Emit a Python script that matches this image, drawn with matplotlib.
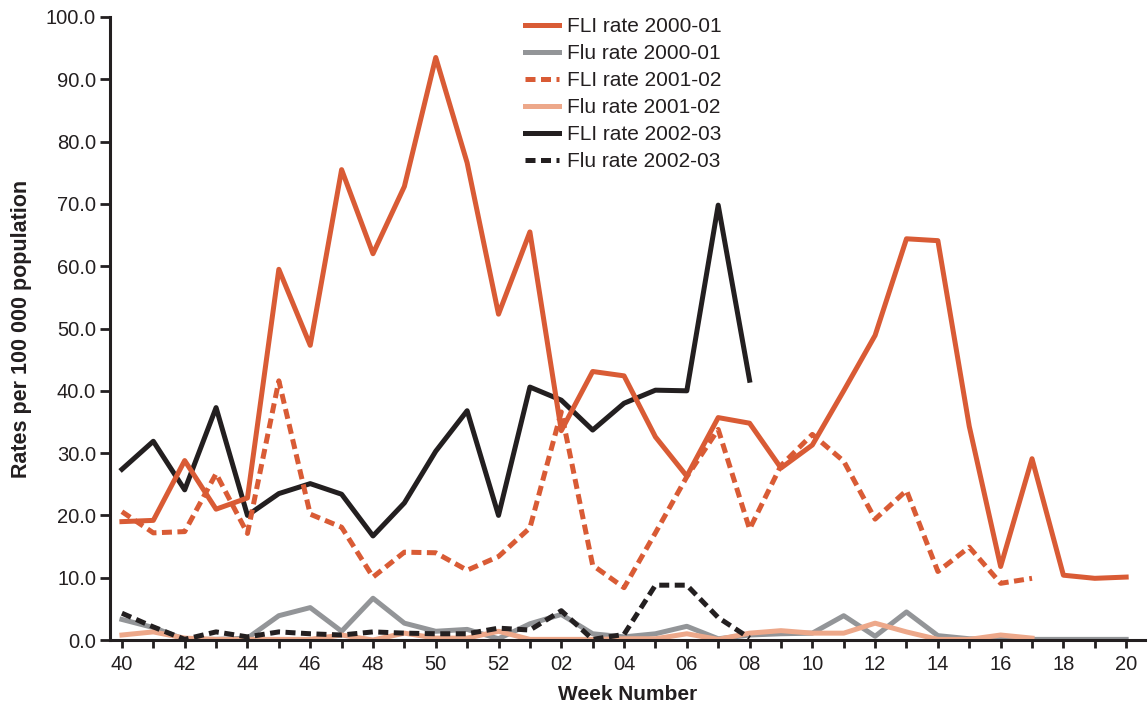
import matplotlib
matplotlib.use("Agg")
import matplotlib.pyplot as plt
from matplotlib.ticker import FixedLocator

weeks = ["40","41","42","43","44","45","46","47","48","49","50","51","52",
         "01","02","03","04","05","06","07","08","09","10","11","12","13",
         "14","15","16","17","18","19","20"]

fli_2000 = [19.0, 19.2, 28.8, 21.0, 22.8, 59.5, 47.3, 75.5, 62.0, 72.8, 93.5, 76.6, 52.3,
            65.5, 33.6, 43.1, 42.4, 32.6, 26.3, 35.7, 34.8, 27.6, 31.3, 40.0, 48.9, 64.4,
            64.1, 34.3, 11.8, 29.1, 10.4, 9.9, 10.1]
flu_2000 = [3.3, 2.0, 0.1, 0.1, 0.3, 3.9, 5.2, 1.4, 6.7, 2.7, 1.4, 1.7, 0.2,
            2.6, 4.1, 1.0, 0.5, 1.0, 2.2, 0.2, 0.8, 1.0, 1.1, 3.9, 0.6, 4.5,
            0.7, 0.2, 0.1, 0.1, 0.1, 0.1, 0.1]
fli_2001 = [20.6, 17.2, 17.4, 26.7, 17.1, 41.6, 20.2, 18.1, 10.1, 14.1, 14.0, 11.2, 13.4,
            18.0, 36.6, 12.0, 8.4, 17.2, 26.2, 33.8, 17.8, 28.0, 33.0, 28.7, 19.4, 24.0,
            11.0, 14.9, 9.1, 9.9]
flu_2001 = [0.8, 1.3, 0.3, 0.1, 0.1, 0.1, 0.1, 0.8, 0.0, 1.1, 0.3, 0.3, 1.4,
            0.1, 0.1, 0.1, 0.2, 0.2, 1.0, 0.1, 1.1, 1.5, 1.1, 1.1, 2.7, 1.3,
            0.1, 0.1, 0.8, 0.3]
fli_2002 = [27.4, 31.9, 24.1, 37.3, 20.0, 23.5, 25.1, 23.4, 16.7, 22.0, 30.3, 36.8, 20.0,
            40.6, 38.5, 33.7, 38.0, 40.1, 40.0, 69.8, 41.7]
flu_2002 = [4.3, 2.1, 0.1, 1.3, 0.5, 1.3, 1.0, 0.8, 1.3, 1.1, 1.0, 1.0, 1.9,
            1.6, 4.7, 0.1, 0.9, 8.8, 8.8, 3.6, 0.3]

orange = "#d95b35"
grey = "#939598"
salmon = "#eda88a"
black = "#231f20"

plt.rcParams['font.family'] = ['Liberation Sans', 'DejaVu Sans']

fig = plt.figure(figsize=(11.48, 7.07), dpi=100)
ax = fig.add_axes([110/1148, 1-640/707, 1035/1148, 623/707])

lw = 3.6
dash = (2.0, 1.1)
x = list(range(len(weeks)))
ax.plot(x[:len(fli_2000)], fli_2000, color=orange, lw=lw, label="FLI rate 2000-01", zorder=3)
ax.plot(x[:len(flu_2000)], flu_2000, color=grey, lw=lw, label="Flu rate 2000-01", zorder=2)
ax.plot(x[:len(fli_2001)], fli_2001, color=orange, lw=lw, dashes=dash, label="FLI rate 2001-02", zorder=3)
ax.plot(x[:len(flu_2001)], flu_2001, color=salmon, lw=lw, label="Flu rate 2001-02", zorder=2)
ax.plot(x[:len(fli_2002)], fli_2002, color=black, lw=lw, label="FLI rate 2002-03", zorder=2)
ax.plot(x[:len(flu_2002)], flu_2002, color=black, lw=lw, dashes=dash, label="Flu rate 2002-03", zorder=2)

ax.set_ylim(0, 100)
ax.set_xlim(-0.38, 32.6)
ax.set_yticks(range(0, 101, 10))
ax.set_yticklabels([f"{v:.1f}" for v in range(0, 101, 10)])
ax.set_xticks(x[::2])
ax.set_xticklabels(weeks[::2])
ax.xaxis.set_minor_locator(FixedLocator(x[1::2]))

for s in ["top", "right"]:
    ax.spines[s].set_visible(False)
for s in ["left", "bottom"]:
    ax.spines[s].set_linewidth(2.2)
    ax.spines[s].set_color(black)

ax.tick_params(axis="both", which="both", direction="out", width=2.0, color=black,
               labelsize=14.5, labelcolor=black)
ax.tick_params(axis="x", which="both", length=6, pad=5)
ax.tick_params(axis="y", length=7, pad=3)

ax.set_xlabel("Week Number", fontsize=15, fontweight="bold", color=black, labelpad=8)
ax.set_ylabel("Rates per 100 000 population", fontsize=15.5, fontweight="bold", color=black,
              labelpad=10)

leg = ax.legend(loc="upper left", bbox_to_anchor=(517/1148, 1-9/707), bbox_transform=fig.transFigure,
                frameon=False, fontsize=15, handlelength=1.6, handletextpad=0.4,
                labelspacing=0.38, borderaxespad=0)
for t in leg.get_texts():
    t.set_color(black)

fig.savefig("out.png", dpi=100)
